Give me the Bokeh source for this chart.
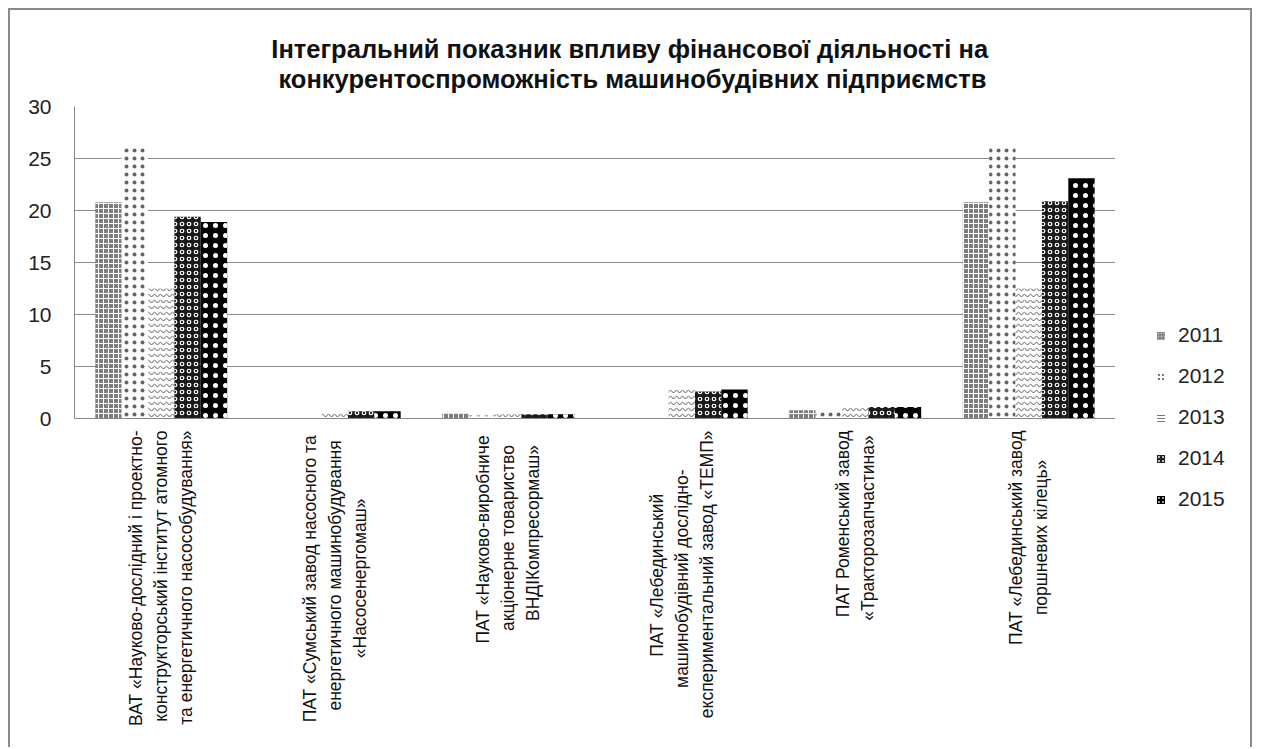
import math
from bokeh.plotting import figure
from bokeh.layouts import row
from bokeh.models import FactorRange, ColumnDataSource, Title, Div
from bokeh.transform import dodge
from bokeh.embed import file_html
from bokeh.resources import INLINE

category_lines = [
    ["ВАТ «Науково-дослідний і проектно-", "конструкторський інститут атомного", "та енергетичного насособудування»"],
    ["ПАТ  «Сумський завод насосного та", "енергетичного машинобудування", "«Насосенергомаш»"],
    ["ПАТ  «Науково-виробниче", "акціонерне товариство", "ВНДІКомпресормаш»"],
    ["ПАТ  «Лебединський", "машинобудівний  дослідно-", "експериментальний завод «ТЕМП»"],
    ["ПАТ Роменський завод", "«Тракторозапчастина»"],
    ["ПАТ «Лебединський завод", "поршневих кілець»"],
]
years = ["2011", "2012", "2013", "2014", "2015"]
v2011 = [20.8, 0.0, 0.5, 0.0, 0.8, 20.8]
v2012 = [26.1, 0.0, 0.3, 0.0, 0.8, 26.1]
v2013 = [12.5, 0.7, 0.4, 2.8, 1.0, 12.5]
v2014 = [19.4, 0.7, 0.4, 2.6, 1.1, 20.9]
v2015 = [18.9, 0.7, 0.4, 2.8, 1.1, 23.1]
y_ticks = [0, 5, 10, 15, 20, 25, 30]
title_lines = ["Інтегральний показник впливу фінансової діяльності  на",
               "конкурентоспроможність машинобудівних підприємств"]


def est_width(s, size, bold=False):
    # rough Arial/Liberation Sans advance widths (em)
    w = 0.0
    for ch in s:
        if ch in " \u00a0":
            w += 0.278
        elif ch in "іїIl":
            w += 0.24
        elif ch in "-":
            w += 0.333
        elif ch in "«»":
            w += 0.556
        elif ch in "шщжюмфШЩЖЮМФ":
            w += 0.78
        elif ch in "гтзкГ":
            w += 0.45
        elif ch.isupper():
            w += 0.68
        else:
            w += 0.54
    return w * size * (1.08 if bold else 1.0)


LAB = 17.5
# centre the lines of each (rotated) label on its longest line
categories = []
for lines in category_lines:
    longest = max(est_width(s, LAB) for s in lines)
    padded = []
    for s in lines:
        n = int(round((longest - est_width(s, LAB)) / 2 / (0.278 * LAB)))
        padded.append(s + "\u00a0" * n)
    categories.append("\n".join(padded))

source = ColumnDataSource(dict(cat=categories, y2011=v2011, y2012=v2012,
                               y2013=v2013, y2014=v2014, y2015=v2015))

PW, LW, H = 1105, 135, 737
p = figure(x_range=FactorRange(*categories), y_range=(0, 30),
           width=PW, height=H, output_backend="svg", toolbar_location=None,
           min_border_left=64, min_border_right=0, min_border_top=96,
           min_border_bottom=329, background_fill_color="white",
           border_fill_color="white")
p.outline_line_color = None

bw = 0.152
styles = [
    dict(fill_color="#7d7d7d", hatch_pattern="+", hatch_color="white", hatch_scale=5, hatch_weight=1),
    dict(fill_color="white", hatch_pattern=".", hatch_color="#666666", hatch_scale=8, hatch_weight=0.5),
    dict(fill_color="white", hatch_pattern="v", hatch_color="#555555", hatch_scale=6, hatch_weight=1),
    dict(fill_color="#1a1a1a", hatch_pattern="o", hatch_color="white", hatch_scale=7, hatch_weight=1.2),
    dict(fill_color="black", hatch_pattern=".", hatch_color="white", hatch_scale=10, hatch_weight=0.7),
]
for i, (yr, st) in enumerate(zip(years, styles)):
    p.vbar(x=dodge("cat", (i - 2) * bw, range=p.x_range), top="y" + yr, width=bw,
           source=source, line_color=None, **st)

# title: two lines, centred on the whole chart (second line padded to sit centred)
TS = 25.5
frame_left = 74
w1 = est_width(title_lines[0], TS, bold=True)
w2 = est_width(title_lines[1], TS, bold=True)
lead = int(round((w1 - w2) / 2 / (0.278 * TS * 1.08)))
title_text = title_lines[0] + "\n" + "\u00a0" * lead + title_lines[1]
p.title = Title(text=title_text, align="left", offset=630 - frame_left - w1 / 2 + 2,
                text_font="Liberation Sans", text_font_size=f"{TS}px",
                text_font_style="bold", text_color="#111111",
                standoff=27, text_line_height=1.08)

p.yaxis.ticker = y_ticks
p.yaxis.axis_line_color = "#868686"
p.yaxis.major_tick_line_color = None
p.yaxis.minor_tick_line_color = None
p.yaxis.major_label_text_font = "Liberation Sans"
p.yaxis.major_label_text_font_size = "21px"
p.yaxis.major_label_text_color = "#222222"
p.yaxis.major_label_standoff = 17

p.xaxis.axis_line_color = "#868686"
p.xaxis.major_tick_line_color = None
p.xaxis.major_label_orientation = math.pi / 2
p.xaxis.major_label_text_font = "Liberation Sans"
p.xaxis.major_label_text_font_size = f"{LAB}px"
p.xaxis.major_label_text_color = "#111111"
p.xaxis.major_label_standoff = 6
p.xaxis.major_label_text_line_height = 1.25

p.xgrid.grid_line_color = None
p.ygrid.grid_line_color = "#8c8c8c"
p.ygrid.grid_line_width = 1

# legend: a narrow HTML panel to the right of the plot
swatches = [
    "background:#8a8a8a radial-gradient(#d8d8d8 30%, transparent 40%) 0 0/3px 3px",
    "background:#ffffff radial-gradient(#777 35%, transparent 45%) 0 0/4px 4px",
    "background:repeating-linear-gradient(0deg, #777 0 1px, #fff 1px 3px)",
    "background:#222 radial-gradient(#bbb 30%, transparent 45%) 0 0/4px 4px",
    "background:#000 radial-gradient(#999 25%, transparent 40%) 0 0/4px 4px",
]
rows_html = "".join(
    f'<div style="height:41px;line-height:41px;white-space:nowrap">'
    f'<span style="display:inline-block;width:8px;height:8px;margin-right:13px;'
    f'vertical-align:middle;{sw}"></span>{yr}</div>'
    for yr, sw in zip(years, swatches))
legend_div = Div(text=f'<div style="padding-top:304px;padding-left:42px;'
                      f'font-family:\'Liberation Sans\';font-size:21px;color:#222">{rows_html}</div>',
                 width=LW, height=H, margin=0)

layout = row(p, legend_div, styles={"margin": "8px 0 0 8px",
                                    "border-top": "2px solid #8a8a8a",
                                    "border-left": "2px solid #8a8a8a",
                                    "border-right": "2px solid #8a8a8a",
                                    "background": "white"})
open("out.html", "w").write(file_html(layout, INLINE))
